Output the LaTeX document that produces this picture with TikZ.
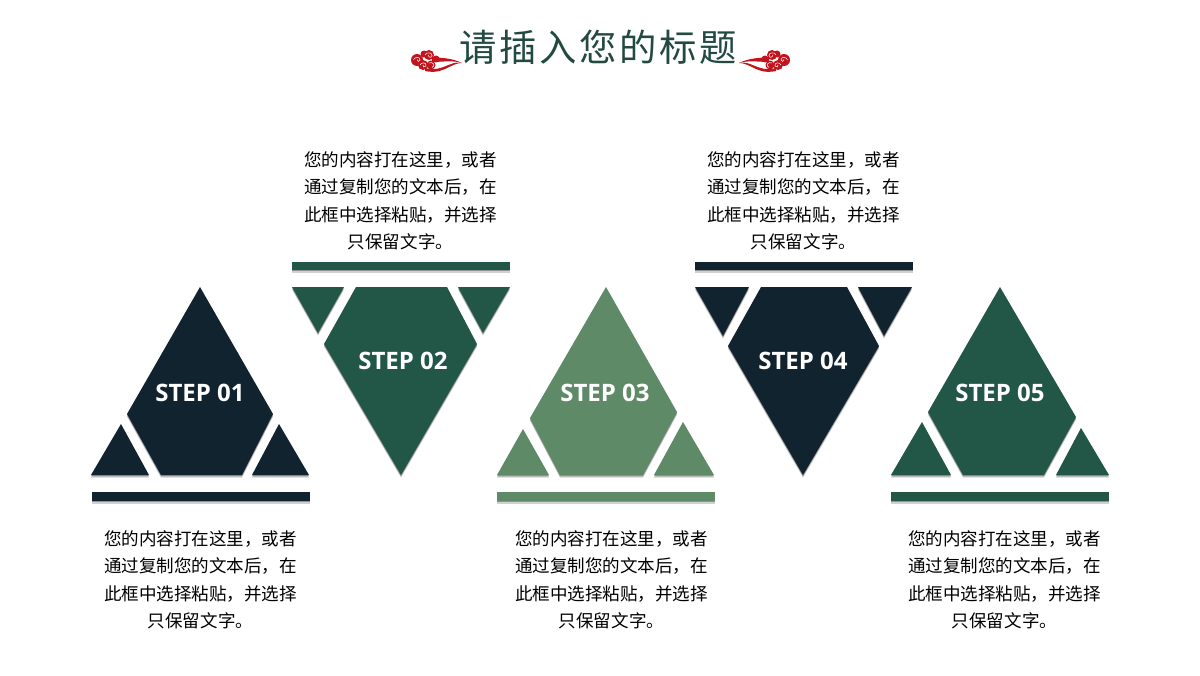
\documentclass[tikz,border=0pt]{standalone}
\usepackage{fontspec}
\usetikzlibrary{shadows}
\setmainfont{Noto Sans CJK SC}
\newfontfamily\stepfont{Open Sans}
\newfontfamily\titlefont[LetterSpace=7]{Noto Sans CJK SC}
\definecolor{navy}{HTML}{122330}
\definecolor{pine}{HTML}{225646}
\definecolor{sage}{HTML}{5F8A67}
\definecolor{titlegreen}{HTML}{234A40}
\definecolor{cloudred}{HTML}{C2141C}
\newcommand{\cloudmark}{%
        \fill[cloudred] (417,60) circle (6);
        \fill[cloudred] (424,54) circle (3.5);
        \fill[cloudred] (429,55) circle (5);
        \fill[cloudred] (436,59) circle (3.5);
        \fill[cloudred] (423,65) circle (5);
        \fill[cloudred] (431,65) circle (4.5);
        \fill[cloudred] (425,68) .. controls (442,73) and (450,60) .. (462,63) .. controls (450,63) and (444,75) .. (425,71) -- cycle;
        \fill[cloudred] (432,57) .. controls (442,58) and (452,58) .. (462,63) .. controls (452,60) and (442,62) .. (432,62) -- cycle;
        \draw[white,line width=.4pt] (413.5,60) .. controls (414,57) and (420,56) .. (420,60) .. controls (420,62) and (416.5,62) .. (417,59.5);
        \draw[white,line width=.4pt] (425,55) .. controls (426,52) and (432,52) .. (432,55.5) .. controls (432,58) and (428,58) .. (428.5,55);
        \draw[white,line width=.4pt] (420,65) .. controls (421,62) and (427,62) .. (426,66) .. controls (425,68) and (422,67) .. (423,65);
        \draw[white,line width=.4pt] (429,63) .. controls (433,61) and (436,66) .. (432,67.5);
}
\begin{document}
\begin{tikzpicture}[x=0.75pt,y=-0.75pt]
        \tikzstyle{soft_shadow} = [drop shadow={shadow xshift=0pt,shadow yshift=-1pt,opacity=.3,fill=black},drop shadow={shadow xshift=0pt,shadow yshift=-2pt,opacity=.18,fill=black}]
        \tikzstyle{navy_shape} = [fill=navy,soft_shadow]
        \tikzstyle{pine_shape} = [fill=pine,soft_shadow]
        \tikzstyle{sage_shape} = [fill=sage,soft_shadow]
        \tikzstyle{step_label} = [text=white,font=\stepfont\bfseries\fontsize{18}{21}\selectfont]
        \tikzstyle{body_text} = [text=black,align=center,font=\fontsize{13.15}{20.6}\selectfont]
        \useasboundingbox (0,0) rectangle (1200,675);
        \node[text=titlegreen,font=\titlefont\fontsize{28}{32}\selectfont] (title) at (598,47) {请插入您的标题};
        \cloudmark
        \begin{scope}[shift={(1201,0)},xscale=-1]
                \cloudmark
        \end{scope}
        \path[navy_shape] (200,287) -- (273,414) -- (242,475) -- (161,475) -- (127,414) -- cycle;
        \path[navy_shape] (121,424) -- (149,475) -- (91,475) -- cycle;
        \path[navy_shape] (279,424) -- (309,475) -- (252,475) -- cycle;
        \path[navy_shape] (92,492) rectangle (310,501);
        \path[pine_shape] (356,287) -- (447,287) -- (477,344) -- (401,475) -- (324,344) -- cycle;
        \path[pine_shape] (292,287) -- (344,287) -- (318,333) -- cycle;
        \path[pine_shape] (458,287) -- (510,287) -- (483,333) -- cycle;
        \path[pine_shape] (292,262) rectangle (510,270);
        \path[sage_shape] (606,287) -- (677,412) -- (643,475) -- (560,475) -- (530,418) -- cycle;
        \path[sage_shape] (523,429) -- (549,475) -- (497,475) -- cycle;
        \path[sage_shape] (683,422) -- (714,475) -- (654,475) -- cycle;
        \path[sage_shape] (497,492) rectangle (715,501);
        \path[navy_shape] (761,287) -- (847,287) -- (879,346) -- (803,475) -- (728,346) -- cycle;
        \path[navy_shape] (695,287) -- (749,287) -- (723,336) -- cycle;
        \path[navy_shape] (858,287) -- (912,287) -- (884,336) -- cycle;
        \path[navy_shape] (695,262) rectangle (913,270);
        \path[pine_shape] (1000,287) -- (1076,417) -- (1044,475) -- (963,475) -- (928,412) -- cycle;
        \path[pine_shape] (922,422) -- (951,475) -- (891,475) -- cycle;
        \path[pine_shape] (1081,428) -- (1109,475) -- (1056,475) -- cycle;
        \path[pine_shape] (891,492) rectangle (1109,501);
        \node[step_label] (s1) at (200,393) {STEP 01};
        \node[step_label] (s2) at (403,361) {STEP 02};
        \node[step_label] (s3) at (605,393) {STEP 03};
        \node[step_label] (s4) at (803,361) {STEP 04};
        \node[step_label] (s5) at (1000,393) {STEP 05};
        \node[body_text] (t1) at (200.5,580) {您的内容打在这里，或者\\通过复制您的文本后，在\\此框中选择粘贴，并选择\\只保留文字。};
        \node[body_text] (t2) at (400.5,201) {您的内容打在这里，或者\\通过复制您的文本后，在\\此框中选择粘贴，并选择\\只保留文字。};
        \node[body_text] (t3) at (611.5,580) {您的内容打在这里，或者\\通过复制您的文本后，在\\此框中选择粘贴，并选择\\只保留文字。};
        \node[body_text] (t4) at (803.5,201) {您的内容打在这里，或者\\通过复制您的文本后，在\\此框中选择粘贴，并选择\\只保留文字。};
        \node[body_text] (t5) at (1004.5,580) {您的内容打在这里，或者\\通过复制您的文本后，在\\此框中选择粘贴，并选择\\只保留文字。};
\end{tikzpicture}
\end{document}
